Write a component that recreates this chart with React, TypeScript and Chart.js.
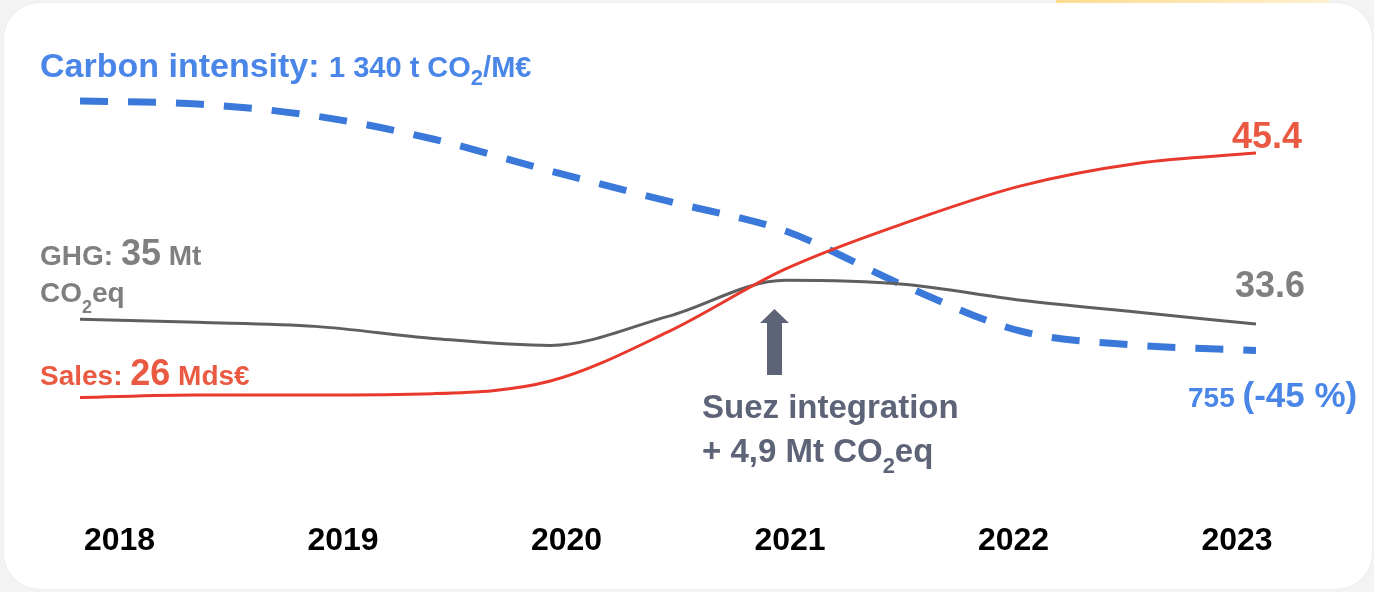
import { useEffect, useRef } from "react";
import { Chart, registerables } from "chart.js";

Chart.register(...registerables);

// Year labels shown along the bottom axis
const YEARS = [2018, 2019, 2020, 2021, 2022, 2023];

// Half-year sampling points used to trace the three trends
const POINT_YEARS = [2018, 2018.5, 2019, 2019.5, 2020, 2020.5, 2021, 2021.5, 2022, 2022.5, 2023];

// Carbon intensity, t CO2 / M€
const CARBON_INTENSITY = [1340, 1333, 1305, 1251, 1176, 1105, 1035, 908, 800, 767, 755];

// GHG emissions, Mt CO2eq
const GHG_EMISSIONS = [35, 34.1, 32.9, 29.3, 27.2, 35.9, 46.7, 45.5, 40.7, 37.1, 33.6];

// Sales, Mds€
const SALES = [26, 26.2, 26.2, 26.3, 27.3, 31.2, 36.2, 39.8, 42.8, 44.6, 45.4];

const FONT = '"Liberation Sans", Arial, Helvetica, sans-serif';

const BLUE_LINE = "#3a79d9";
const BLUE_TEXT = "#4a86e8";
const GREY_LINE = "#5f5f5f";
const GREY_TEXT = "#7f7f7f";
const RED_LINE = "#e8392c";
const RED_TEXT = "#ea5a42";
const SLATE = "#5e6478";

type Seg = { text: string; size: number; color: string; shift?: number };

function drawRich(ctx: CanvasRenderingContext2D, x: number, y: number, segs: Seg[]) {
  let cx = x;
  for (const s of segs) {
    ctx.font = `bold ${s.size}px ${FONT}`;
    ctx.fillStyle = s.color;
    ctx.fillText(s.text, cx, y + (s.shift ?? 0));
    cx += ctx.measureText(s.text).width;
  }
}

const toPoints = (values: number[]) => values.map((v, i) => ({ x: POINT_YEARS[i], y: v }));

const annotations = {
  id: "trendAnnotations",
  afterDatasetsDraw(chart: any) {
    const ctx: CanvasRenderingContext2D = chart.ctx;
    const xs = chart.scales.x;
    const yInt = chart.scales.yInt;
    const yGhg = chart.scales.yGhg;
    const ySales = chart.scales.ySales;
    const last = POINT_YEARS.length - 1;
    const endX = xs.getPixelForValue(POINT_YEARS[last]);

    ctx.save();
    ctx.textBaseline = "alphabetic";
    ctx.textAlign = "left";

    // Starting values on the left
    const intStartY = yInt.getPixelForValue(CARBON_INTENSITY[0]);
    drawRich(ctx, 40, intStartY - 24, [
      { text: "Carbon intensity: ", size: 34, color: BLUE_TEXT },
      { text: "1 340 t CO", size: 29, color: BLUE_TEXT },
      { text: "2", size: 22, color: BLUE_TEXT, shift: 8 },
      { text: "/M€", size: 29, color: BLUE_TEXT },
    ]);

    const ghgStartY = yGhg.getPixelForValue(GHG_EMISSIONS[0]);
    drawRich(ctx, 40, ghgStartY - 54, [
      { text: "GHG: ", size: 28, color: GREY_TEXT },
      { text: "35", size: 36, color: GREY_TEXT },
      { text: " Mt", size: 28, color: GREY_TEXT },
    ]);
    drawRich(ctx, 40, ghgStartY - 17, [
      { text: "CO", size: 28, color: GREY_TEXT },
      { text: "2", size: 18, color: GREY_TEXT, shift: 11 },
      { text: "eq", size: 28, color: GREY_TEXT },
    ]);

    const salesStartY = ySales.getPixelForValue(SALES[0]);
    drawRich(ctx, 40, salesStartY - 12, [
      { text: "Sales: ", size: 28, color: RED_TEXT },
      { text: "26", size: 36, color: RED_TEXT },
      { text: " Mds€", size: 28, color: RED_TEXT },
    ]);

    // End values on the right
    const salesEndY = ySales.getPixelForValue(SALES[last]);
    drawRich(ctx, endX - 24, salesEndY - 5, [
      { text: SALES[last].toFixed(1), size: 36, color: RED_TEXT },
    ]);
    const ghgEndY = yGhg.getPixelForValue(GHG_EMISSIONS[last]);
    drawRich(ctx, endX - 21, ghgEndY - 27, [
      { text: GHG_EMISSIONS[last].toFixed(1), size: 36, color: GREY_TEXT },
    ]);
    const intEndY = yInt.getPixelForValue(CARBON_INTENSITY[last]);
    drawRich(ctx, endX - 68, intEndY + 57, [
      { text: `${CARBON_INTENSITY[last]} `, size: 28, color: BLUE_TEXT },
      { text: "(-45 %)", size: 35, color: BLUE_TEXT },
    ]);

    // Suez integration marker
    ctx.fillStyle = SLATE;
    ctx.beginPath();
    ctx.moveTo(767, 375);
    ctx.lineTo(767, 323);
    ctx.lineTo(760, 323);
    ctx.lineTo(774.5, 309);
    ctx.lineTo(789, 323);
    ctx.lineTo(782, 323);
    ctx.lineTo(782, 375);
    ctx.closePath();
    ctx.fill();

    drawRich(ctx, 702, 418, [{ text: "Suez integration", size: 33, color: SLATE }]);
    drawRich(ctx, 702, 462, [
      { text: "+ 4,9 Mt CO", size: 33, color: SLATE },
      { text: "2", size: 22, color: SLATE, shift: 11 },
      { text: "eq", size: 33, color: SLATE },
    ]);

    ctx.restore();
  },
};

export default function App() {
  const canvasRef = useRef<HTMLCanvasElement | null>(null);

  useEffect(() => {
    const canvas = canvasRef.current;
    if (!canvas) return;

    const chart = new Chart(canvas, {
      type: "line",
      data: {
        datasets: [
          {
            label: "Sales",
            data: toPoints(SALES),
            xAxisID: "x",
            yAxisID: "ySales",
            borderColor: RED_LINE,
            borderWidth: 3,
            pointRadius: 0,
            cubicInterpolationMode: "monotone",
            fill: false,
            order: 0,
          },
          {
            label: "GHG",
            data: toPoints(GHG_EMISSIONS),
            xAxisID: "x",
            yAxisID: "yGhg",
            borderColor: GREY_LINE,
            borderWidth: 3,
            pointRadius: 0,
            cubicInterpolationMode: "monotone",
            fill: false,
            order: 1,
          },
          {
            label: "Carbon intensity",
            data: toPoints(CARBON_INTENSITY),
            xAxisID: "x",
            yAxisID: "yInt",
            borderColor: BLUE_LINE,
            borderWidth: 7,
            borderDash: [28, 20],
            borderCapStyle: "butt",
            pointRadius: 0,
            cubicInterpolationMode: "monotone",
            fill: false,
            order: 2,
          },
        ],
      },
      options: {
        animation: false,
        responsive: false,
        maintainAspectRatio: false,
        layout: { padding: { left: 80, right: 118, top: 40, bottom: 11 } },
        plugins: {
          legend: { display: false },
          tooltip: { enabled: false },
        },
        scales: {
          x: { type: "linear", min: 2018, max: 2023, display: false },
          years: {
            type: "linear",
            position: "bottom",
            min: 2017.823,
            max: 2023.085,
            grid: { display: false, drawTicks: false },
            border: { display: false },
            afterBuildTicks: (scale: any) => {
              scale.ticks = YEARS.map((v) => ({ value: v }));
            },
            ticks: {
              color: "#000000",
              padding: 21,
              autoSkip: false,
              maxRotation: 0,
              font: { family: FONT, size: 32, weight: "bold" },
              callback: (v: any) => String(v),
            },
          },
          yInt: { display: false, min: 402.6, max: 1483.3 },
          yGhg: { display: false, min: -19.3, max: 118.7 },
          ySales: { display: false, min: 17.81, max: 54.38 },
        },
      } as any,
      plugins: [annotations],
    });

    return () => chart.destroy();
  }, []);

  return (
    <div style={{ position: "fixed", inset: 0, background: "#f3f3f4", overflow: "hidden" }}>
      <div
        style={{
          position: "absolute",
          left: 4,
          top: 3,
          width: 1368,
          height: 586,
          background: "#ffffff",
          borderRadius: 36,
          boxShadow: "0 0 3px rgba(0,0,0,0.05)",
        }}
      />
      <div
        style={{
          position: "absolute",
          left: 1056,
          top: 0,
          width: 273,
          height: 3,
          background: "linear-gradient(90deg, #fddc90, #fdefcf)",
        }}
      />
      <canvas
        ref={canvasRef}
        width={1374}
        height={592}
        style={{ position: "absolute", left: 0, top: 0, display: "block" }}
      />
    </div>
  );
}
